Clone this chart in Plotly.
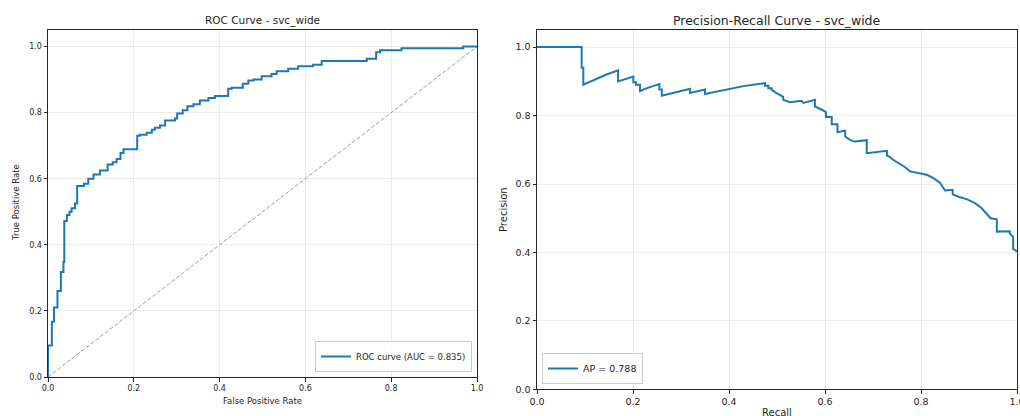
import plotly.graph_objects as go

# ---------------- data ----------------
roc_fpr = [0.0, 0.0, 0.009, 0.014, 0.022, 0.030, 0.036, 0.038, 0.044, 0.050, 0.055, 0.063,
           0.068, 0.084, 0.094, 0.106, 0.121, 0.139, 0.151, 0.160, 0.169, 0.176, 0.208,
           0.214, 0.230, 0.242, 0.249, 0.261, 0.273, 0.296, 0.301, 0.314, 0.325, 0.339,
           0.354, 0.374, 0.389, 0.420, 0.428, 0.454, 0.467, 0.479, 0.498, 0.521, 0.533,
           0.560, 0.583, 0.618, 0.638, 0.743, 0.765, 0.774, 0.824, 0.968, 1.0]
roc_tpr = [0.0, 0.095, 0.167, 0.210, 0.260, 0.318, 0.348, 0.472, 0.490, 0.500, 0.511, 0.525,
           0.578, 0.585, 0.600, 0.613, 0.625, 0.643, 0.650, 0.660, 0.678, 0.689, 0.730,
           0.733, 0.739, 0.748, 0.754, 0.761, 0.776, 0.782, 0.797, 0.807, 0.819, 0.825,
           0.837, 0.844, 0.850, 0.872, 0.875, 0.887, 0.897, 0.900, 0.910, 0.917, 0.925,
           0.933, 0.940, 0.945, 0.956, 0.963, 0.983, 0.989, 0.995, 1.0, 1.0]

pr_recall = [0.0, 0.093, 0.093, 0.0965, 0.0965, 0.12, 0.145, 0.169, 0.169, 0.2006, 0.2006,
             0.206, 0.206, 0.2146, 0.2146, 0.235, 0.255, 0.255, 0.26, 0.26, 0.29, 0.319,
             0.319, 0.35, 0.35, 0.39, 0.43, 0.475, 0.475, 0.482, 0.482, 0.489, 0.489,
             0.50, 0.513, 0.513, 0.527, 0.551, 0.555, 0.579, 0.579, 0.593, 0.602, 0.602,
             0.614, 0.614, 0.626, 0.626, 0.642, 0.642, 0.652, 0.662, 0.687, 0.687, 0.729,
             0.729, 0.734, 0.742, 0.756, 0.767, 0.777, 0.798, 0.812, 0.826, 0.840, 0.850,
             0.866, 0.866, 0.878, 0.895, 0.9125, 0.926, 0.938, 0.945, 0.958, 0.958, 0.985,
             0.985, 0.992, 0.992, 1.0]
pr_precision = [1.0, 1.0, 0.94, 0.94, 0.89, 0.905, 0.92, 0.932, 0.90, 0.914, 0.897,
                0.897, 0.89, 0.89, 0.872, 0.883, 0.892, 0.876, 0.876, 0.858, 0.869, 0.878,
                0.866, 0.876, 0.863, 0.875, 0.886, 0.895, 0.887, 0.887, 0.880, 0.880, 0.875,
                0.865, 0.855, 0.846, 0.839, 0.843, 0.837, 0.846, 0.827, 0.817, 0.810, 0.796,
                0.796, 0.775, 0.775, 0.751, 0.756, 0.739, 0.729, 0.724, 0.728, 0.690, 0.697,
                0.683, 0.680, 0.671, 0.659, 0.649, 0.637, 0.632, 0.627, 0.617, 0.603, 0.581,
                0.583, 0.570, 0.563, 0.556, 0.544, 0.530, 0.513, 0.500, 0.497, 0.461, 0.462,
                0.455, 0.446, 0.410, 0.403]

diag = [0.0, 1.0]
tick_vals = [0.0, 0.2, 0.4, 0.6, 0.8, 1.0]
tick_text = ["0.0", "0.2", "0.4", "0.6", "0.8", "1.0"]

roc_label = "ROC curve (AUC = 0.835)"
pr_label = "AP = 0.788"

# ---------------- layout helpers ----------------
W, H = 1020, 416
FONT = "DejaVu Sans"


def px_x(p):
    return p / W


def px_y(p):
    return 1 - p / H


def axis(domain, rng, size, anchor):
    return dict(domain=domain, range=rng, anchor=anchor, tickvals=tick_vals, ticktext=tick_text,
                automargin=False, ticklabeloverflow="allow",
                showgrid=True, gridcolor="#ebebeb", gridwidth=1, zeroline=False,
                showline=True, linecolor="#262626", linewidth=1, mirror=True,
                ticks="outside", ticklen=3.5, tickwidth=1, tickcolor="#262626",
                tickfont=dict(family=FONT, size=size, color="#262626"),
                fixedrange=True)


fig = go.Figure()
fig.add_trace(go.Scatter(x=diag, y=diag, mode="lines", showlegend=False,
                         line=dict(color="rgba(120,120,120,0.75)", width=1, dash="4px,2px"),
                         xaxis="x", yaxis="y", hoverinfo="skip"))
fig.add_trace(go.Scatter(x=roc_fpr, y=roc_tpr, mode="lines", name=roc_label,
                         line=dict(color="#1f77b4", width=2, shape="hv"),
                         xaxis="x", yaxis="y", legend="legend"))
fig.add_trace(go.Scatter(x=pr_recall, y=pr_precision, mode="lines", name=pr_label,
                         line=dict(color="#1f77b4", width=2),
                         xaxis="x2", yaxis="y2", legend="legend2"))

annotations = [
    dict(text="ROC Curve - svc_wide", x=px_x(262), y=px_y(20), size=10.5),
    dict(text="Precision-Recall Curve - svc_wide", x=px_x(777), y=px_y(20.5), size=12.5),
    dict(text="False Positive Rate", x=px_x(262), y=px_y(401), size=8.5),
    dict(text="Recall", x=px_x(777), y=px_y(412), size=10),
    dict(text="True Positive Rate", x=px_x(16), y=px_y(203), size=8.5, angle=-90),
    dict(text="Precision", x=px_x(503), y=px_y(210), size=10, angle=-90),
]
ann_objs = []
for a in annotations:
    ann_objs.append(dict(text=a["text"], x=a["x"], y=a["y"], xref="paper", yref="paper",
                         showarrow=False, xanchor="center", yanchor="middle",
                         textangle=a.get("angle", 0),
                         font=dict(family=FONT, size=a["size"], color="#262626")))

fig.update_layout(
    width=W, height=H, autosize=False,
    margin=dict(l=0, r=0, t=0, b=0, autoexpand=False),
    paper_bgcolor="white", plot_bgcolor="white",
    xaxis=axis([px_x(48), px_x(477)], [0, 1], 8, "y"),
    yaxis=axis([px_y(377), px_y(30)], [0, 1.05], 8, "x"),
    xaxis2=axis([px_x(537), px_x(1017)], [0, 1], 9.5, "y2"),
    yaxis2=axis([px_y(389.4), px_y(30)], [0, 1.05], 9.5, "x2"),
    legend=dict(x=px_x(472), y=px_y(372), xanchor="right", yanchor="bottom",
                bordercolor="#cccccc", borderwidth=1, bgcolor="rgba(255,255,255,0.85)",
                font=dict(family=FONT, size=8.5, color="#262626"), itemwidth=30),
    legend2=dict(x=px_x(542), y=px_y(384), xanchor="left", yanchor="bottom",
                 bordercolor="#cccccc", borderwidth=1, bgcolor="rgba(255,255,255,0.85)",
                 font=dict(family=FONT, size=9.5, color="#262626"), itemwidth=30),
    annotations=ann_objs,
    showlegend=True,
)

fig.write_html("out.html", config={"displayModeBar": False})
